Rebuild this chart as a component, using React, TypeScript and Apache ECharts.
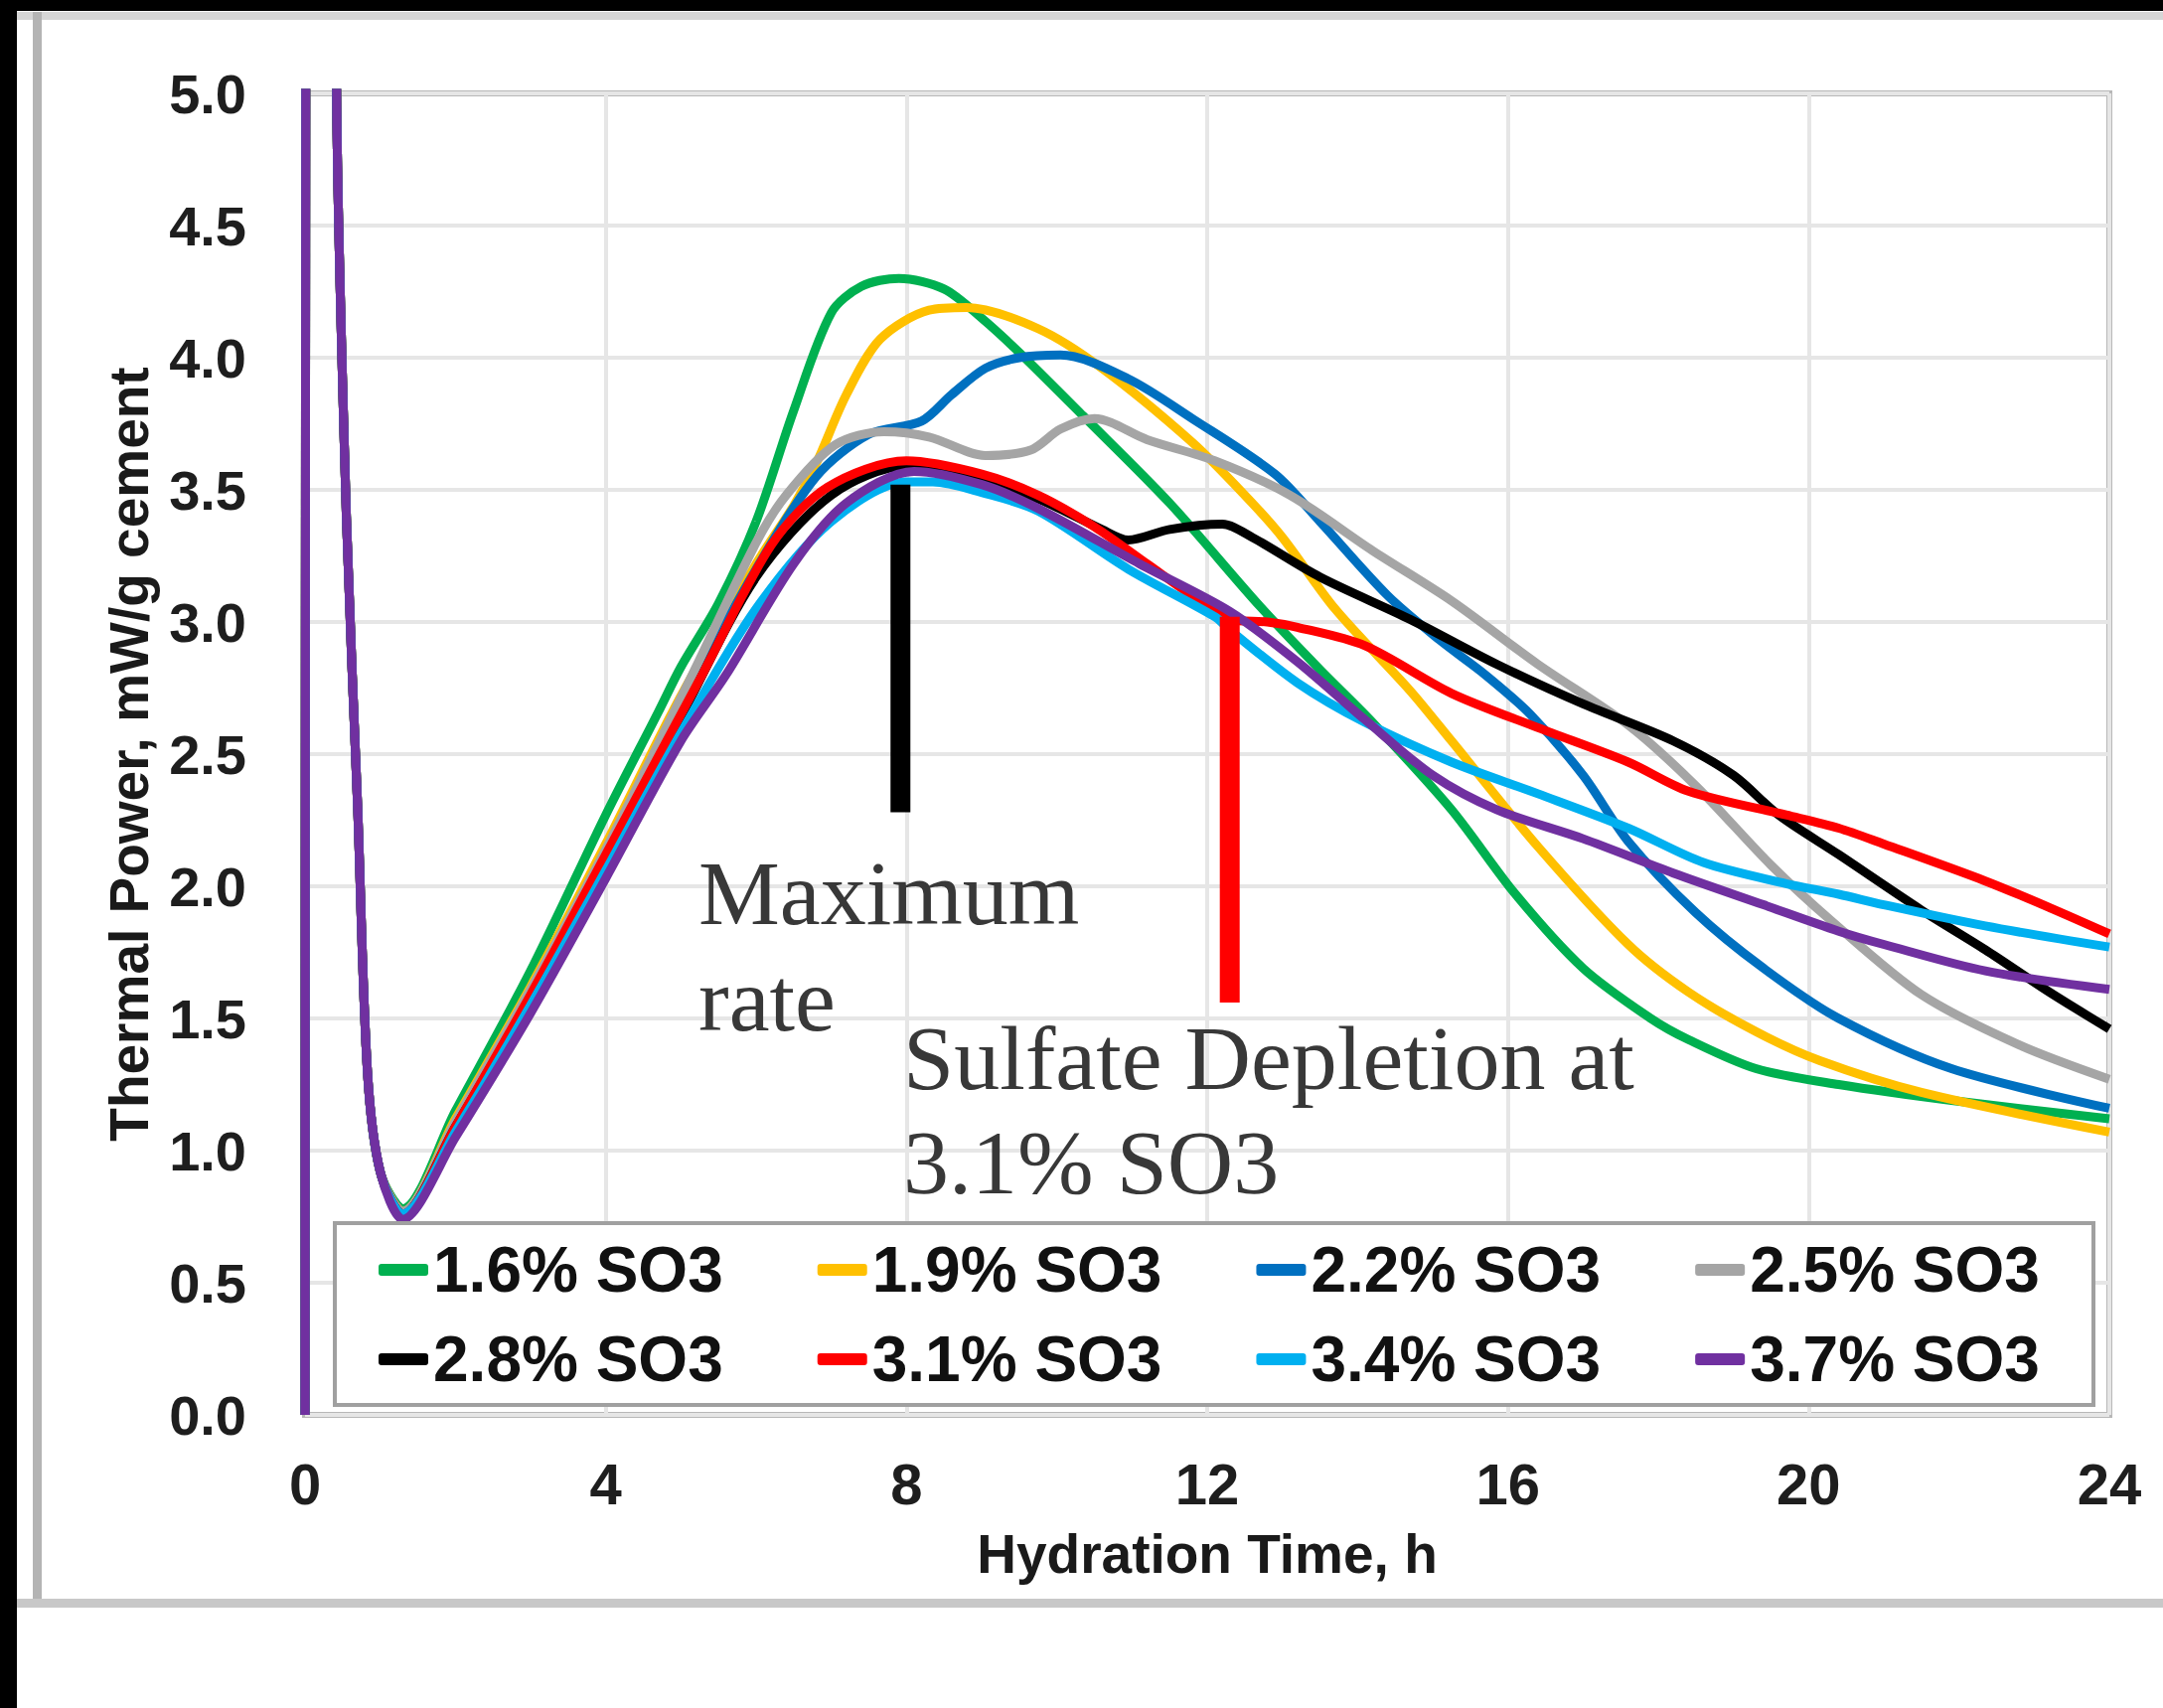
import React, { useEffect, useRef } from "react";
import * as echarts from "echarts";

// ---- Data (hydration time h, thermal power mW/g cement) ----
const seriesNames = ["1.6% SO3", "1.9% SO3", "2.2% SO3", "2.5% SO3", "2.8% SO3", "3.1% SO3", "3.4% SO3", "3.7% SO3"];
const seriesColors = ["#00b050", "#ffc000", "#0070c0", "#a5a5a5", "#000000", "#ff0000", "#00b0f0", "#7030a0"];

const so3_16: number[][] = [[0,0],[0.1,20],[0.42,5],[0.55,3.4],[0.7,2.3],[0.83,1.3],[1.0,0.92],[1.3,0.78],[2.0,1.15],[3.0,1.68],[4.0,2.27],[4.7,2.66],[5.0,2.83],[5.5,3.07],[6.0,3.38],[6.5,3.8],[7.0,4.17],[7.4,4.27],[7.9,4.3],[8.5,4.26],[9.0,4.15],[9.5,4.02],[10.35,3.78],[11.5,3.45],[12.7,3.06],[13.5,2.82],[14.2,2.62],[15.25,2.29],[16.1,1.97],[17.0,1.69],[17.9,1.5],[18.4,1.42],[19.3,1.31],[20.4,1.25],[21.9,1.19],[24,1.12]];
const so3_19: number[][] = [[0,0],[0.1,20],[0.42,5],[0.55,3.4],[0.7,2.3],[0.83,1.3],[1.0,0.92],[1.3,0.77],[2.0,1.12],[3.0,1.62],[4.0,2.16],[5.0,2.72],[6.0,3.22],[6.5,3.44],[6.8,3.6],[7.2,3.86],[7.65,4.07],[8.3,4.18],[8.8,4.19],[9.75,4.11],[10.6,3.96],[11.8,3.68],[12.5,3.48],[13.0,3.32],[13.7,3.05],[14.7,2.74],[15.25,2.55],[16.4,2.15],[17.6,1.78],[18.4,1.6],[19.3,1.45],[20.15,1.34],[21.5,1.22],[24,1.07]];
const so3_22: number[][] = [[0,0],[0.1,20],[0.42,5],[0.55,3.4],[0.7,2.3],[0.83,1.3],[1.0,0.92],[1.3,0.76],[2.0,1.1],[3.0,1.6],[4.0,2.12],[5.0,2.68],[6.0,3.2],[6.8,3.55],[7.5,3.71],[8.2,3.76],[8.6,3.86],[9.05,3.96],[9.5,4.0],[10.05,4.01],[10.95,3.92],[11.8,3.77],[12.9,3.56],[13.5,3.38],[14.4,3.1],[15.1,2.93],[15.7,2.8],[16.3,2.65],[17.0,2.42],[17.6,2.17],[18.5,1.9],[19.4,1.69],[20.4,1.5],[21.9,1.31],[24,1.16]];
const so3_25: number[][] = [[0,0],[0.1,20],[0.42,5],[0.55,3.4],[0.7,2.3],[0.83,1.3],[1.0,0.92],[1.3,0.77],[2.0,1.11],[3.0,1.61],[4.0,2.14],[5.15,2.8],[6.0,3.3],[6.4,3.48],[7.05,3.67],[7.7,3.72],[8.3,3.7],[9.05,3.63],[9.65,3.65],[10.05,3.73],[10.5,3.77],[11.2,3.69],[12.1,3.61],[13.1,3.48],[14.2,3.27],[15.25,3.08],[16.4,2.84],[17.6,2.61],[18.5,2.38],[19.5,2.08],[20.3,1.87],[21.5,1.59],[22.8,1.4],[24,1.27]];
const so3_28: number[][] = [[0,0],[0.1,20],[0.42,5],[0.55,3.4],[0.7,2.3],[0.83,1.3],[1.0,0.92],[1.3,0.76],[2.0,1.09],[3.0,1.58],[4.0,2.1],[5.0,2.64],[6.0,3.17],[7.0,3.48],[8.0,3.59],[9.0,3.54],[9.8,3.46],[10.6,3.35],[10.95,3.31],[11.5,3.35],[12.2,3.37],[12.6,3.32],[13.5,3.17],[14.7,3.01],[15.85,2.84],[17.0,2.69],[18.2,2.55],[19.0,2.42],[19.6,2.27],[20.4,2.12],[21.5,1.91],[22.35,1.76],[23.2,1.6],[24,1.46]];
const so3_31: number[][] = [[0,0],[0.1,20],[0.42,5],[0.55,3.4],[0.7,2.3],[0.83,1.3],[1.0,0.92],[1.3,0.76],[2.0,1.09],[3.0,1.59],[4.0,2.12],[5.3,2.81],[6.2,3.29],[6.95,3.51],[8.0,3.61],[9.0,3.56],[9.75,3.48],[10.5,3.36],[11.2,3.22],[11.8,3.1],[12.3,3.01],[12.8,3.0],[13.2,2.98],[14.1,2.91],[15.25,2.73],[16.4,2.6],[17.6,2.47],[18.4,2.36],[19.7,2.27],[20.4,2.22],[21.0,2.16],[22.35,2.02],[23.2,1.92],[24,1.82]];
const so3_34: number[][] = [[0,0],[0.1,20],[0.42,5],[0.55,3.4],[0.7,2.3],[0.83,1.3],[1.0,0.92],[1.3,0.76],[2.0,1.07],[3.0,1.55],[4.0,2.06],[5.0,2.58],[6.0,3.05],[7.0,3.38],[8.0,3.53],[8.35,3.53],[9.0,3.49],[9.75,3.42],[10.95,3.2],[12.1,3.02],[12.3,2.97],[13.2,2.77],[14.1,2.62],[15.25,2.47],[16.4,2.35],[17.6,2.22],[18.6,2.09],[19.7,2.01],[20.4,1.97],[21.0,1.93],[22.35,1.85],[24,1.77]];
const so3_37: number[][] = [[0,0],[0.1,20],[0.42,5],[0.55,3.4],[0.7,2.3],[0.83,1.3],[1.0,0.92],[1.3,0.74],[2.0,1.05],[3.0,1.52],[4.0,2.03],[5.0,2.55],[5.6,2.8],[6.5,3.22],[7.2,3.45],[8.1,3.57],[9.0,3.52],[9.75,3.43],[11.1,3.22],[12.3,3.04],[13.2,2.85],[14.1,2.63],[15.0,2.42],[15.85,2.29],[17.0,2.18],[18.2,2.05],[19.4,1.93],[20.4,1.83],[21.0,1.78],[22.35,1.68],[24,1.61]];

const seriesData = [so3_16, so3_19, so3_22, so3_25, so3_28, so3_31, so3_34, so3_37];

// Annotation markers (axis coordinates)
const maxRateMarker: number[][] = [[7.92, 3.52], [7.92, 2.28]];
const depletionMarker: number[][] = [[12.3, 3.02], [12.3, 1.56]];

const xMin = 0, xMax = 24, xStep = 4;
const yMin = 0, yMax = 5, yStep = 0.5;

const sansFont = "'Liberation Sans', Arial, sans-serif";
const serifFont = "'Liberation Serif', 'Times New Roman', serif";

export default function App() {
  const ref = useRef<HTMLDivElement>(null);

  useEffect(() => {
    document.body.style.margin = "0";
    document.body.style.overflow = "hidden";
    const chart = echarts.init(ref.current!, null, { renderer: "svg" });

    const legendCommon = {
      left: 381,
      itemWidth: 50,
      itemHeight: 12,
      itemGap: 95,
      padding: 0,
      icon: "roundRect",
      selectedMode: false,
      z: 20,
      textStyle: {
        fontFamily: sansFont,
        fontWeight: "bold",
        fontSize: 64,
        color: "#111111",
        lineHeight: 70,
      },
    };

    const lineSeries = seriesNames.map((name, i) => ({
      name,
      type: "line",
      data: seriesData[i],
      showSymbol: false,
      symbol: "none",
      smooth: 0.3,
      clip: true,
      z: 2,
      lineStyle: { width: 9, color: seriesColors[i] },
      itemStyle: { color: seriesColors[i] },
      emphasis: { disabled: true },
    }));

    chart.setOption({
      animation: false,
      backgroundColor: "transparent",
      grid: {
        left: 307,
        right: 54,
        top: 94,
        bottom: 295,
        show: true,
        borderColor: "#b8b8b8",
        borderWidth: 6,
        backgroundColor: "transparent",
      },
      xAxis: {
        type: "value",
        min: xMin,
        max: xMax,
        interval: xStep,
        name: "Hydration Time, h",
        nameLocation: "middle",
        nameGap: 112,
        nameTextStyle: { fontFamily: sansFont, fontWeight: "bold", fontSize: 55, color: "#1a1a1a" },
        axisLine: { show: false },
        axisTick: { show: false },
        splitLine: { show: true, lineStyle: { color: "#e6e6e6", width: 4 } },
        axisLabel: { fontFamily: sansFont, fontWeight: "bold", fontSize: 58, color: "#1e1e1e", margin: 40 },
      },
      yAxis: {
        type: "value",
        min: yMin,
        max: yMax,
        interval: yStep,
        name: "Thermal Power, mW/g cement",
        nameLocation: "middle",
        nameRotate: 90,
        nameGap: 150,
        nameTextStyle: { fontFamily: sansFont, fontWeight: "bold", fontSize: 55, color: "#1a1a1a" },
        axisLine: { show: false },
        axisTick: { show: false },
        splitLine: { show: true, lineStyle: { color: "#e6e6e6", width: 4 } },
        axisLabel: {
          fontFamily: sansFont,
          fontWeight: "bold",
          fontSize: 56,
          color: "#1e1e1e",
          margin: 59,
          formatter: (v: number) => v.toFixed(1),
        },
      },
      legend: [
        { ...legendCommon, top: 1243, data: seriesNames.slice(0, 4) },
        { ...legendCommon, top: 1333, data: seriesNames.slice(4) },
      ],
      graphic: [
        {
          type: "rect",
          z: 10,
          shape: { x: 337, y: 1231, width: 1770, height: 183 },
          style: { fill: "#ffffff", stroke: "#a0a0a0", lineWidth: 4 },
        },
        {
          type: "text",
          z: 10,
          style: { text: "Maximum", x: 703, y: 899, font: `92px ${serifFont}`, fill: "#383838", verticalAlign: "middle" },
        },
        {
          type: "text",
          z: 10,
          style: { text: "rate", x: 703, y: 1006, font: `92px ${serifFont}`, fill: "#383838", verticalAlign: "middle" },
        },
        {
          type: "text",
          z: 10,
          style: { text: "Sulfate Depletion at", x: 909, y: 1065, font: `92px ${serifFont}`, fill: "#383838", verticalAlign: "middle" },
        },
        {
          type: "text",
          z: 10,
          style: { text: "3.1% SO3", x: 909, y: 1170, font: `92px ${serifFont}`, fill: "#383838", verticalAlign: "middle" },
        },
      ],
      series: [
        ...lineSeries,
        {
          name: "Maximum rate marker",
          type: "line",
          data: maxRateMarker,
          showSymbol: false,
          symbol: "none",
          z: 3,
          lineStyle: { width: 20, color: "#000000", cap: "butt" },
          emphasis: { disabled: true },
        },
        {
          name: "Sulfate depletion marker",
          type: "line",
          data: depletionMarker,
          showSymbol: false,
          symbol: "none",
          z: 3,
          lineStyle: { width: 20, color: "#ff0000", cap: "butt" },
          emphasis: { disabled: true },
        },
      ],
    });

    return () => chart.dispose();
  }, []);

  return (
    <div style={{ position: "absolute", left: 0, top: 0, width: 2177, height: 1719, background: "#000000", overflow: "hidden" }}>
      <div style={{ position: "absolute", left: 17, top: 11, width: 2160, height: 1708, background: "#ffffff" }} />
      <div style={{ position: "absolute", left: 17, top: 12, width: 2160, height: 8, background: "#d6d6d6" }} />
      <div style={{ position: "absolute", left: 33, top: 12, width: 9, height: 1606, background: "#b4b4b4" }} />
      <div style={{ position: "absolute", left: 17, top: 1609, width: 2160, height: 9, background: "#c8c8c8" }} />
      <div ref={ref} style={{ position: "absolute", left: 0, top: 0, width: 2177, height: 1719 }} />
    </div>
  );
}
